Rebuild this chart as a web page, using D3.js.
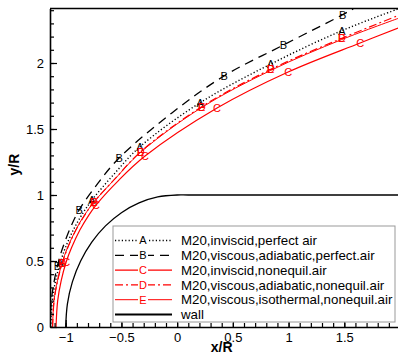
<!DOCTYPE html>
<html>
<head>
<meta charset="utf-8">
<script src="https://cdn.jsdelivr.net/npm/d3@7"></script>
<style>
  body { margin: 0; background: #fff; }
  svg { display: block; font-family: Arial, "Liberation Sans", sans-serif; }
  .tick text { font-size: 13px; fill: #000; }
</style>
</head>
<body>
<svg id="chart" width="398" height="355"></svg>
<script>
// shock positions [x/R, y/R]
const shockA = [[-1.134, 0], [-1.12, 0.2], [-1.091, 0.35], [-1.044, 0.5], [-1.003, 0.6], [-0.932, 0.735],
  [-0.855, 0.85], [-0.764, 0.962], [-0.575, 1.15], [-0.333, 1.366], [0.206, 1.699], [0.840, 1.992],
  [1.478, 2.245], [1.984, 2.41]];
const shockB = [[-1.141, 0], [-1.129, 0.2], [-1.103, 0.35], [-1.063, 0.5], [-1.027, 0.6], [-0.959, 0.75],
  [-0.88, 0.886], [-0.71, 1.09], [-0.521, 1.28], [-0.05, 1.62], [0.421, 1.902], [0.953, 2.136],
  [1.486, 2.366], [1.58, 2.41]];
const shockC = [[-1.087, 0], [-1.072, 0.2], [-1.041, 0.35], [-0.996, 0.492], [-0.948, 0.6], [-0.873, 0.735],
  [-0.791, 0.85], [-0.728, 0.924], [-0.538, 1.1], [-0.288, 1.295], [0.358, 1.659], [0.996, 1.932],
  [1.642, 2.152], [1.983, 2.265]];
const shockD = [[-1.118, 0], [-1.104, 0.2], [-1.073, 0.35], [-1.031, 0.485], [-0.982, 0.6], [-0.908, 0.735],
  [-0.828, 0.85], [-0.746, 0.947], [-0.55, 1.13], [-0.327, 1.328], [0.221, 1.669], [0.840, 1.952],
  [1.478, 2.187], [1.984, 2.36]];
const shockE = [[-1.118, 0], [-1.105, 0.2], [-1.074, 0.35], [-1.033, 0.485], [-0.984, 0.6], [-0.910, 0.735],
  [-0.830, 0.85], [-0.748, 0.945], [-0.553, 1.126], [-0.330, 1.322], [0.218, 1.662], [0.840, 1.944],
  [1.478, 2.178], [1.984, 2.338]];
const wallPts = [[-1, 0], [-0.985, 0.174], [-0.940, 0.342], [-0.866, 0.5], [-0.766, 0.643], [-0.643, 0.766],
  [-0.5, 0.866], [-0.342, 0.940], [-0.174, 0.985], [0, 1], [0.1, 1], [2.0, 1]];

// symbol positions along each line
const markA = [[-1.05, 0.485], [-0.764, 0.962], [-0.333, 1.366], [0.206, 1.699], [0.840, 1.992], [1.478, 2.245]];
const markB = [[-1.075, 0.46], [-0.88, 0.886], [-0.521, 1.28], [0.421, 1.902], [0.953, 2.136], [1.486, 2.366]];
const markC = [[-0.996, 0.492], [-0.728, 0.924], [-0.288, 1.295], [0.358, 1.659], [0.996, 1.932], [1.642, 2.152]];
const markD = [[-1.031, 0.485], [-0.746, 0.947], [-0.327, 1.328], [0.221, 1.669], [0.840, 1.952], [1.478, 2.187]];
const markE = markD;

const legendNames = ["M20,inviscid,perfect air", "M20,viscous,adiabatic,perfect.air",
  "M20,inviscid,nonequil.air", "M20,viscous,adiabatic,nonequil.air",
  "M20,viscous,isothermal,nonequil.air", "wall"];
const xTicks = [-1, -0.5, 0, 0.5, 1, 1.5];
const yTicks = [0, 0.5, 1, 1.5, 2];

const series = [
  { pts: shockA, marks: markA, sym: "A", color: "#000", dash: "1.2,2.2", width: 1.4 },
  { pts: shockB, marks: markB, sym: "B", color: "#000", dash: "9,6", width: 1.3 },
  { pts: shockC, marks: markC, sym: "C", color: "#f00", dash: null, width: 1.2 },
  { pts: shockD, marks: markD, sym: "D", color: "#f00", dash: "8,3,2,3", width: 1.2 },
  { pts: shockE, marks: markE, sym: "E", color: "#f00", dash: null, width: 1 },
  { pts: wallPts, marks: [], sym: null, color: "#000", dash: null, width: 1.3 }
];

const svg = d3.select("#chart");
const plotL = 50, plotR = 400, plotT = 8.5, plotB = 327;

const x = d3.scaleLinear().domain([-1.141, 2.0]).range([plotL, plotR]);
const y = d3.scaleLinear().domain([0, (plotB - plotT) / 132]).range([plotB, plotT]);

svg.append("clipPath").attr("id", "plot-clip")
  .append("rect").attr("x", plotL).attr("y", plotT).attr("width", plotR - plotL).attr("height", plotB - plotT);

const line = d3.line().x(d => x(d[0])).y(d => y(d[1])).curve(d3.curveCatmullRom.alpha(0.5));

const plot = svg.append("g").attr("clip-path", "url(#plot-clip)");

series.forEach(s => {
  plot.append("path")
    .datum(s.pts)
    .attr("d", line)
    .attr("fill", "none")
    .attr("stroke", s.color)
    .attr("stroke-width", s.width)
    .attr("stroke-dasharray", s.dash);
  plot.selectAll(null)
    .data(s.marks)
    .enter()
    .append("text")
    .attr("x", d => x(d[0]))
    .attr("y", d => y(d[1]))
    .attr("text-anchor", "middle")
    .attr("dy", "0.36em")
    .attr("font-size", 11)
    .attr("fill", s.color)
    .text(s.sym);
});

// axes: ticks point inward
svg.append("g").attr("transform", `translate(0,${plotB})`)
  .call(d3.axisBottom(x).tickValues(xTicks).tickSizeInner(-7).tickSizeOuter(0).tickPadding(6)
    .tickFormat(d3.format("")));
svg.append("g").attr("transform", `translate(0,${plotB})`)
  .call(d3.axisBottom(x).tickValues(d3.range(-1.1, 1.95, 0.1)).tickSizeInner(-4).tickSizeOuter(0).tickFormat(""))
  .select(".domain").remove();

svg.append("g").attr("transform", `translate(${plotL},0)`)
  .call(d3.axisLeft(y).tickValues(yTicks).tickSizeInner(-7).tickSizeOuter(0).tickPadding(6)
    .tickFormat(d3.format("")));
svg.append("g").attr("transform", `translate(${plotL},0)`)
  .call(d3.axisLeft(y).tickValues(d3.range(0.1, 2.41, 0.1)).tickSizeInner(-4).tickSizeOuter(0).tickFormat(""))
  .select(".domain").remove();

svg.selectAll(".domain").attr("stroke-width", 1.6);
svg.selectAll(".tick line").attr("stroke-width", 1.2);

svg.append("line")
  .attr("x1", plotL).attr("x2", plotR).attr("y1", plotT).attr("y2", plotT)
  .attr("stroke", "#000").attr("stroke-width", 1.6);

svg.append("text")
  .attr("x", x(0.4)).attr("y", 352)
  .attr("text-anchor", "middle").attr("font-size", 14).attr("font-weight", "bold")
  .text("x/R");
svg.append("text")
  .attr("transform", `translate(19,${y(1.23)}) rotate(-90)`)
  .attr("text-anchor", "middle").attr("font-size", 14).attr("font-weight", "bold")
  .text("y/R");

// legend
const legend = svg.append("g");
legend.append("rect")
  .attr("x", 113).attr("y", 226).attr("width", 282).attr("height", 96)
  .attr("fill", "#fff").attr("stroke", "#999").attr("stroke-width", 1);

const rows = legend.selectAll("g.row")
  .data(series)
  .enter()
  .append("g")
  .attr("class", "row")
  .attr("transform", (d, i) => `translate(0,${240.5 + i * 14.8})`);

rows.append("line")
  .attr("x1", 115).attr("x2", 172)
  .attr("stroke", d => d.color)
  .attr("stroke-width", d => d.sym ? d.width : 2)
  .attr("stroke-dasharray", d => d.dash);

rows.filter(d => d.sym).append("rect")
  .attr("x", 138).attr("y", -5).attr("width", 10).attr("height", 10).attr("fill", "#fff");
rows.filter(d => d.sym).append("text")
  .attr("x", 143).attr("dy", "0.36em").attr("text-anchor", "middle")
  .attr("font-size", 11).attr("fill", d => d.color)
  .text(d => d.sym);

rows.append("text")
  .attr("x", 181).attr("dy", "0.36em")
  .attr("font-size", 13.3)
  .text((d, i) => legendNames[i]);
</script>
</body>
</html>
